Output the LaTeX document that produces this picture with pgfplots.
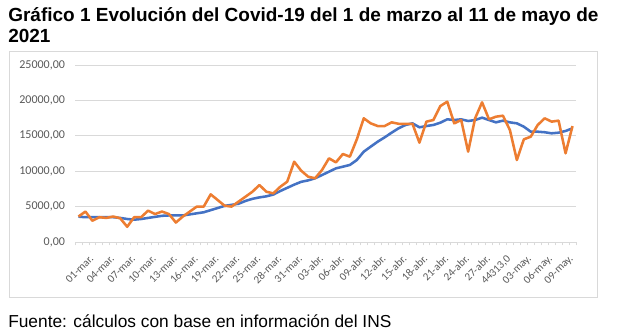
\documentclass[border=0pt]{standalone}
\usepackage{pgfplots}
\pgfplotsset{compat=1.18}
\usepackage{pgfplotstable}
\usepackage{fontspec}
\setmainfont{Liberation Sans}
\newfontfamily\carlito{Carlito}
\definecolor{cblue}{HTML}{4472C4}
\definecolor{corange}{HTML}{ED7D31}
\definecolor{cgrid}{HTML}{D9D9D9}
\definecolor{ctxt}{HTML}{595959}
\pgfplotstableread{
i orange blue
0 3600 3580
1 4300 3500
2 3000 3500
3 3500 3500
4 3400 3500
5 3600 3500
6 3350 3400
7 2150 3250
8 3500 3150
9 3500 3250
10 4430 3400
11 3950 3550
12 4300 3700
13 3950 3750
14 2750 3750
15 3600 3750
16 4300 3900
17 5000 4050
18 5000 4200
19 6730 4500
20 5930 4800
21 5130 5100
22 5000 5250
23 5700 5400
24 6400 5800
25 7100 6100
26 8050 6300
27 7100 6450
28 6870 6700
29 7800 7200
30 8520 7650
31 11340 8100
32 10080 8500
33 9230 8700
34 9000 9000
35 10170 9460
36 11820 9930
37 11250 10400
38 12430 10640
39 12050 10880
40 14500 11580
41 17470 12760
42 16760 13470
43 16380 14170
44 16380 14780
45 16900 15440
46 16700 16060
47 16700 16530
48 16700 16760
49 14030 16200
50 17000 16380
51 17230 16530
52 19200 16850
53 19820 17330
54 16760 17230
55 17230 17330
56 12760 17090
57 17470 17230
58 19730 17560
59 17330 17230
60 17700 16900
61 17840 17140
62 15820 16900
63 11580 16760
64 14500 16290
65 14880 15580
66 16530 15580
67 17470 15500
68 17000 15350
69 17140 15440
70 12530 15680
71 16380 16060
}\data
\begin{document}
\begin{tikzpicture}
\begin{scope}[x=0.75pt,y=-0.75pt]
\path[fill=white] (0,0) rectangle (620,335);
\draw[cgrid, line width=0.75pt] (9,52) rectangle (597,297);
\node[anchor=base west, inner sep=0pt, font=\bfseries\fontsize{14.25pt}{16pt}\selectfont] at (8,22) {Gráfico 1 Evolución del Covid-19 del 1 de marzo al 11 de mayo de};
\node[anchor=base west, inner sep=0pt, font=\bfseries\fontsize{14.25pt}{16pt}\selectfont] at (8,43) {2021};
\node[anchor=base west, inner sep=0pt, font=\fontsize{13pt}{15pt}\selectfont] at (8,327) {Fuente: cálculos con base en información del INS};
\end{scope}
\begin{axis}[
  at={(56.25pt,-181.5pt)}, anchor=south west,
  scale only axis, width=375.75pt, height=132.75pt,
  xmin=-0.5, xmax=71.5, ymin=0, ymax=25000,
  axis line style={draw=none},
  axis x line*=bottom, axis y line*=left,
  scaled y ticks=false,
  ytick={0,5000,10000,15000,20000,25000},
  yticklabels={{0,00},{5000,00},{10000,00},{15000,00},{20000,00},{25000,00}},
  ymajorgrids, grid style={cgrid, line width=0.75pt},
  major tick length=0pt,
  yticklabel style={font=\carlito\fontsize{9pt}{10pt}\selectfont, text=ctxt, anchor=east, xshift=-4pt},
  xtick={0,3,...,69},
  xticklabels={01-mar.,04-mar.,07-mar.,10-mar.,13-mar.,16-mar.,19-mar.,22-mar.,25-mar.,28-mar.,31-mar.,03-abr.,06-abr.,09-abr.,12-abr.,15-abr.,18-abr.,21-abr.,24-abr.,27-abr.,{44313,0},03-may.,06-may.,09-may.},
  xticklabel style={font=\carlito\fontsize{8.25pt}{9pt}\selectfont, text=ctxt, rotate=45, anchor=east, inner sep=1pt, yshift=-15pt, xshift=0pt},
  extra x ticks={-0.5,0.5,...,71.5},
  extra x tick labels={},
  extra x tick style={grid=none, major tick length=2.5pt, tick align=outside, tick style={cgrid, line width=0.6pt}},
  clip=false,
]
\draw[cgrid, line width=0.75pt] (axis cs:-0.5,0) -- (axis cs:71.5,0);
\addplot[cblue, line width=1.9pt, line join=round] table[x=i,y=blue] {\data};
\addplot[corange, line width=1.9pt, line join=round] table[x=i,y=orange] {\data};
\end{axis}
\end{tikzpicture}
\end{document}
